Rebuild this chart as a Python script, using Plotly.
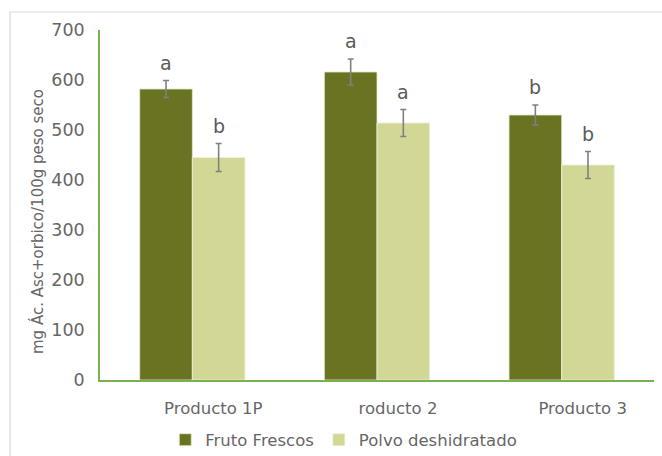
import plotly.graph_objects as go

# Data
productos = ["Producto 1P", "roducto 2", "Producto 3"]
fruto_frescos = [582, 616, 530]
fruto_err = [17, 26, 20]
polvo_deshidratado = [445, 514, 430]
polvo_err = [28, 27, 27]
letras_fruto = ["a", "a", "b"]
letras_polvo = ["b", "a", "b"]

DARK = "#6A7322"
LIGHT = "#D3D796"
AXIS_GREEN = "#78B055"
TXT = "#666666"
FONT = "DejaVu Sans, Verdana, sans-serif"

W, H = 662, 456
ML, MR, MT, MB = 100, 8, 30, 76
PW, PH = W - ML - MR, H - MT - MB

fig = go.Figure()
fig.add_trace(go.Bar(
    name="Fruto Frescos", x=productos, y=fruto_frescos,
    marker=dict(color=DARK, line=dict(color="#E4E8CC", width=0.8)),
    error_y=dict(type="data", array=fruto_err, color="#808080", thickness=1.6, width=3),
))
fig.add_trace(go.Bar(
    name="Polvo deshidratado", x=productos, y=polvo_deshidratado,
    marker=dict(color=LIGHT, line=dict(color="#EEF0DA", width=0.8)),
    error_y=dict(type="data", array=polvo_err, color="#808080", thickness=1.6, width=3),
))

# Significance letters above each error bar (bars sit at +/- a quarter of the group width)
GROUP_W = 0.57
for i in range(len(productos)):
    for off, vals, errs, letras in ((-GROUP_W / 4, fruto_frescos, fruto_err, letras_fruto),
                                    (GROUP_W / 4, polvo_deshidratado, polvo_err, letras_polvo)):
        fig.add_annotation(
            x=i + off, y=vals[i] + errs[i], xref="x", yref="y",
            text=letras[i], showarrow=False, yanchor="bottom", yshift=5,
            font=dict(family=FONT, size=19, color="#5A5A5A"),
        )

# Y axis title
fig.add_annotation(
    x=(37 - ML) / PW, y=(H - MB - 222) / PH, xref="paper", yref="paper",
    xanchor="center", yanchor="middle",
    text="mg Ác. Asc+orbico/100g peso seco",
    textangle=-90, showarrow=False, font=dict(family=FONT, size=15, color=TXT),
)

# Outer chart frame
fig.add_shape(type="rect", xref="paper", yref="paper",
              x0=(10 - ML) / PW, x1=1.2, y0=-0.4, y1=(H - MB - 12) / PH,
              line=dict(color="#D9D9D9", width=1.2), fillcolor="rgba(0,0,0,0)", layer="below")

fig.update_layout(
    width=W, height=H,
    margin=dict(l=ML, r=MR, t=MT, b=MB, autoexpand=False),
    paper_bgcolor="white", plot_bgcolor="white",
    barmode="group", bargap=1 - GROUP_W, bargroupgap=0,
    font=dict(family=FONT, color=TXT),
    showlegend=True,
    legend=dict(orientation="h", x=0.44, xanchor="center",
                yref="container", y=(H - 440) / H, yanchor="middle",
                font=dict(family=FONT, size=16.5, color=TXT), itemwidth=30,
                traceorder="normal"),
    xaxis=dict(showline=True, linecolor=AXIS_GREEN, linewidth=1.6, ticks="",
               tickfont=dict(family=FONT, size=16.5, color=TXT), showgrid=False,
               ticklabelstandoff=12, ticklabelshift=21),
    yaxis=dict(range=[0, 700], dtick=100, showline=True, linecolor=AXIS_GREEN, linewidth=1.6,
               ticks="", showgrid=False, zeroline=False,
               tickfont=dict(family=FONT, size=17.5, color=TXT), ticklabelstandoff=10),
)

fig.write_html("out.html")
